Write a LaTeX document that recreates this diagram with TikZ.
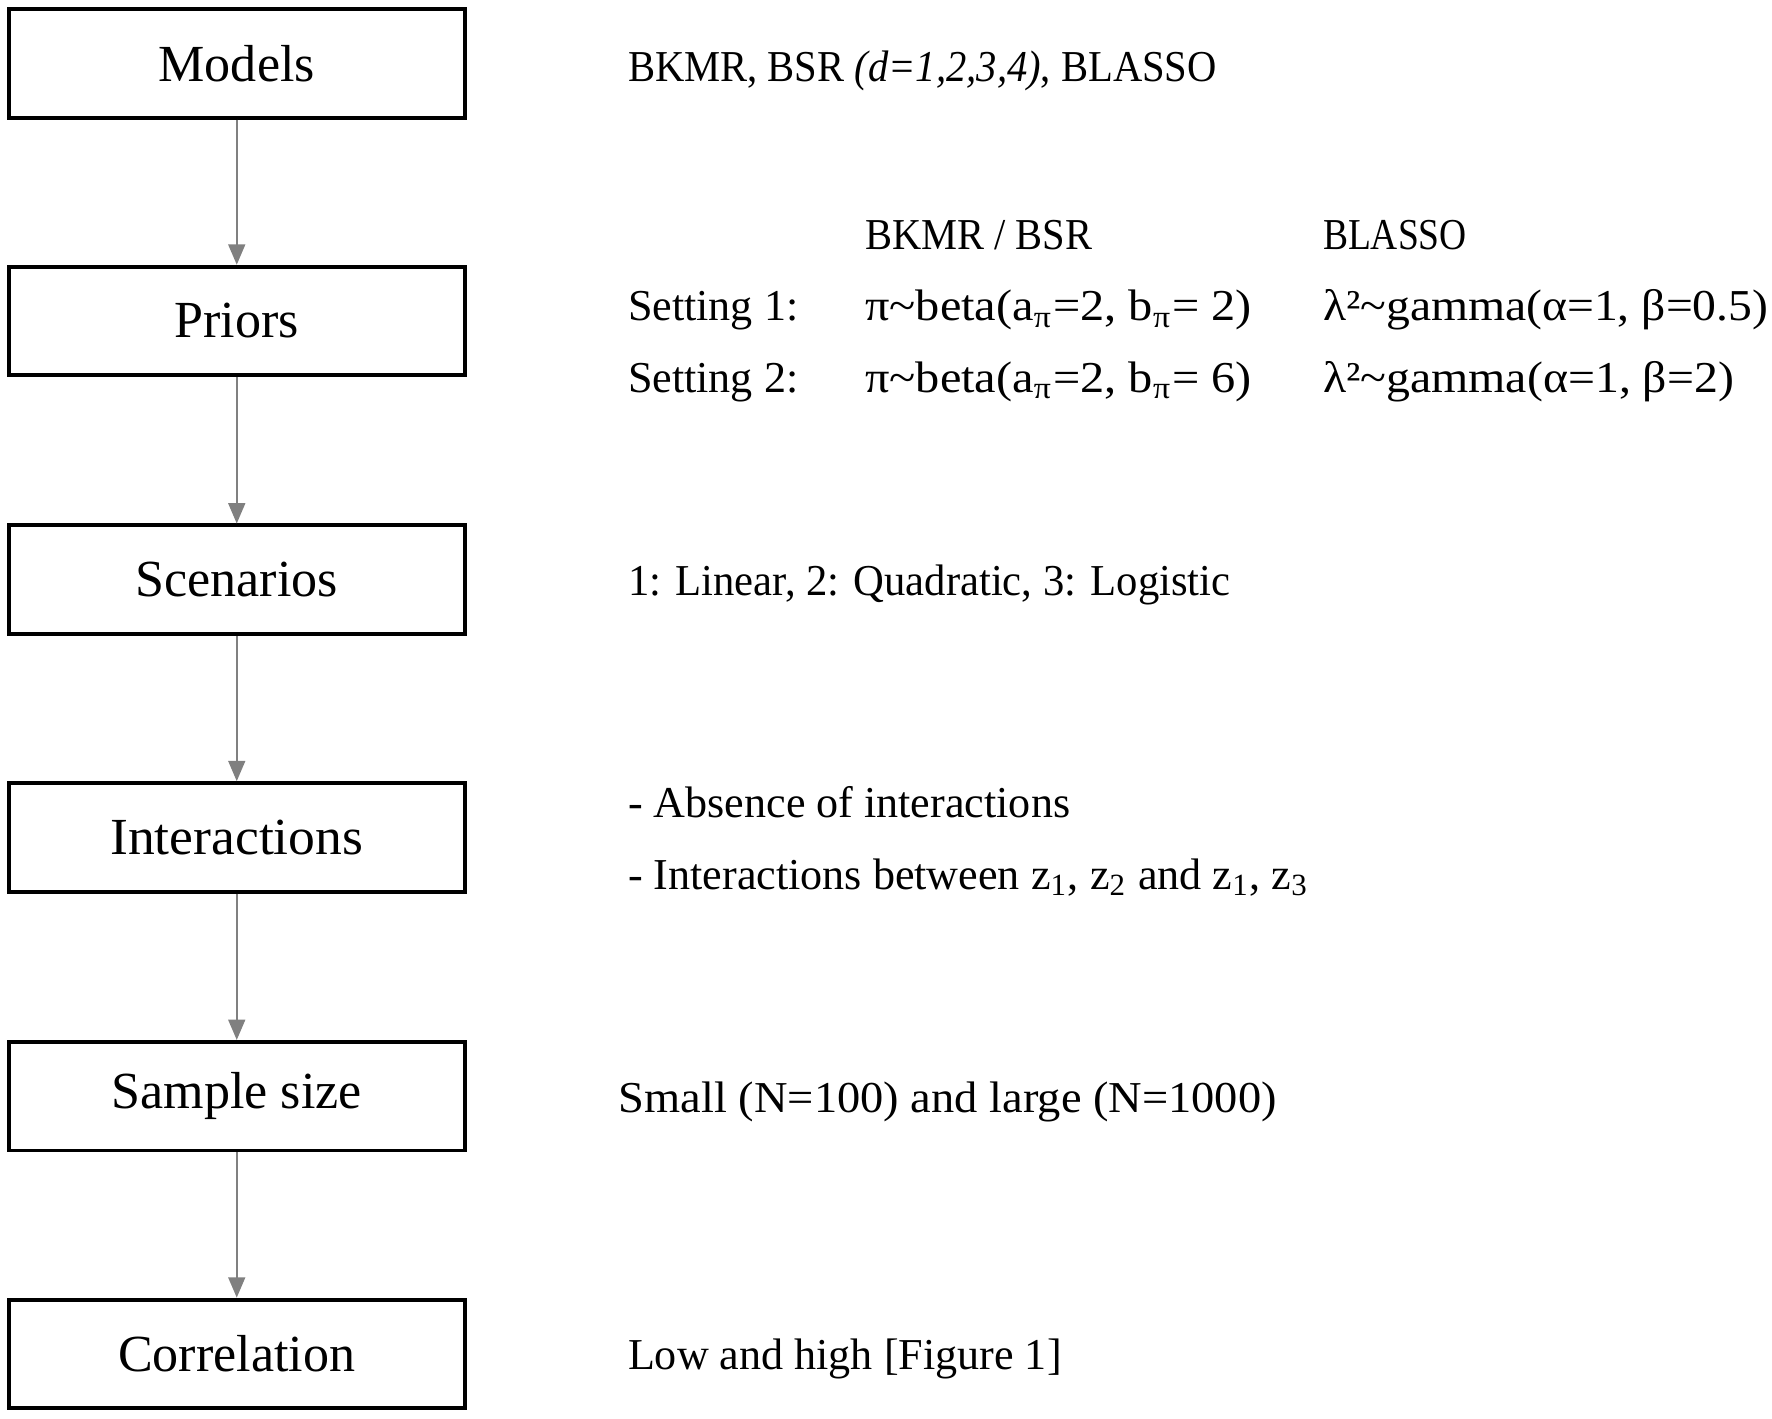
\documentclass[tikz,border=0pt]{standalone}
\usepackage{fontspec}
\setmainfont{Liberation Serif}
\usetikzlibrary{arrows.meta}
\definecolor{arrowgray}{RGB}{128,128,128}
\newcommand{\hsq}[2]{\scalebox{#1}[1]{#2}}
\begin{document}
\begin{tikzpicture}[x=0.01cm,y=-0.01cm,
  stage/.style={draw=black,line width=1pt,minimum width=4.03cm,minimum height=0.96cm,inner sep=0pt,
    font=\fontsize{13.1pt}{15pt}\selectfont},
  lbl/.style={anchor=base west,inner sep=0pt,font=\fontsize{11.1pt}{13pt}\selectfont},
  flow/.style={draw=arrowgray,line width=0.45pt,-{Triangle[length=0.18cm,width=0.15cm,fill=arrowgray]}}]
\useasboundingbox (0,0) rectangle (1568,1254.8);
% boxes
\node[stage] (models) at (209.5,56) {Models};
\node[stage] (priors) at (209.5,284) {Priors};
\node[stage] (scen) at (209.5,513) {Scenarios};
\node[stage] (inter) at (209.5,741) {\hsq{1.03}{Interactions}};
\node[stage] (size) at (209.5,970) {Sample size};
\node[stage] (corr) at (209.5,1198) {Correlation};
% connectors
\draw[flow] (models) -- (priors);
\draw[flow] (priors) -- (scen);
\draw[flow] (scen) -- (inter);
\draw[flow] (inter) -- (size);
\draw[flow] (size) -- (corr);
% labels
\node[lbl] (tmodels) at (555,72) {\hsq{0.92}{BKMR, BSR \textit{(d=1,2,3,4)}, BLASSO}};
\node[lbl] (hbk) at (765,221) {\hsq{0.917}{BKMR / BSR}};
\node[lbl] (hbl) at (1170,221) {\hsq{0.85}{BLASSO}};
\node[lbl] (s1) at (555,284) {Setting 1:};
\node[lbl] (s1a) at (765,284) {\hsq{1.096}{π\textasciitilde beta(a\textsubscript{π}=2, b\textsubscript{π}= 2)}};
\node[lbl] (s1b) at (1170,284) {\hsq{1.08}{λ²\textasciitilde gamma(α=1, β=0.5)}};
\node[lbl] (s2) at (555,347) {Setting 2:};
\node[lbl] (s2a) at (765,347) {\hsq{1.096}{π\textasciitilde beta(a\textsubscript{π}=2, b\textsubscript{π}= 6)}};
\node[lbl] (s2b) at (1170,347) {\hsq{1.084}{λ²\textasciitilde gamma(α=1, β=2)}};
\node[lbl] (tscen) at (555,527) {\hsq{0.967}{1: Linear, 2: Quadratic, 3: Logistic}};
\node[lbl] (ti1) at (555,723) {- Absence of interactions};
\node[lbl] (ti2) at (555,787) {- Interactions between z\textsubscript{1}, z\textsubscript{2} and z\textsubscript{1}, z\textsubscript{3}};
\node[lbl] (tsize) at (547,984) {\hsq{1.053}{Small (N=100) and large (N=1000)}};
\node[lbl] (tcorr) at (555,1212) {Low and high [Figure 1]};
\end{tikzpicture}
\end{document}
